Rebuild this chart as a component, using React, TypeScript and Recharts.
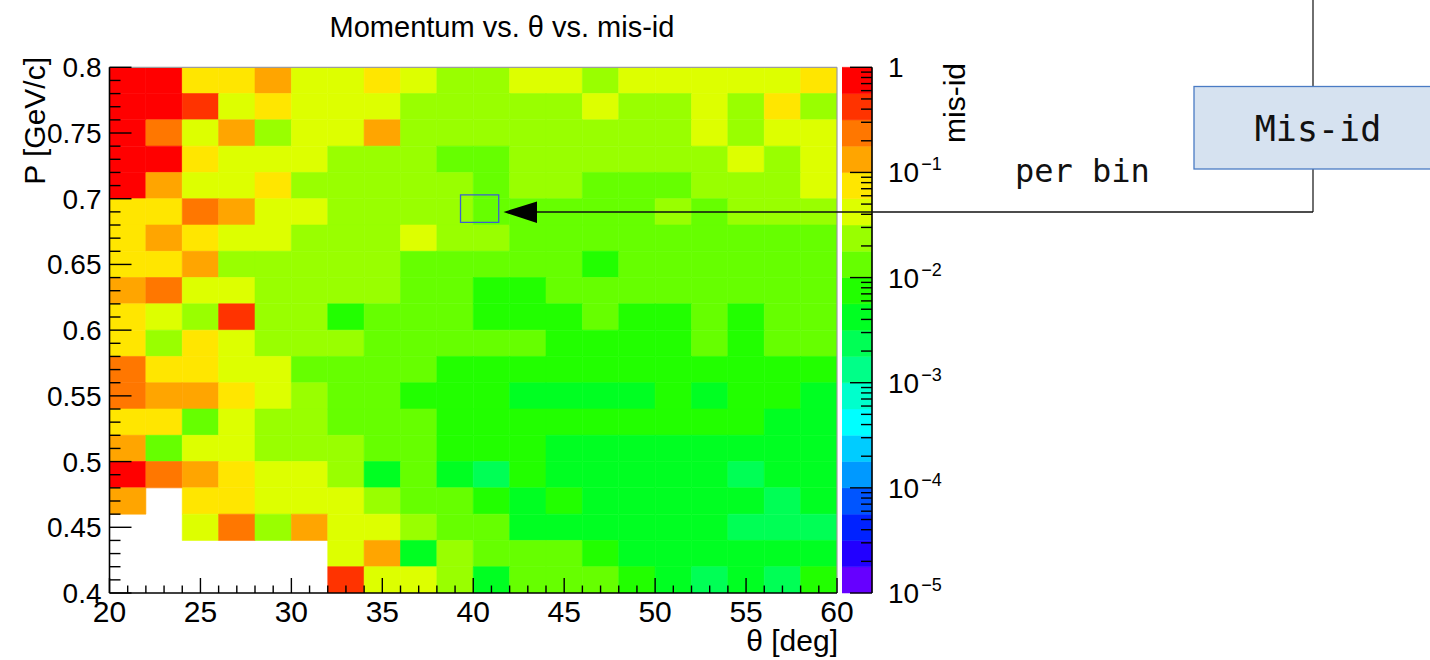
import React from 'react';
import { ComposedChart, XAxis, YAxis, ReferenceArea } from 'recharts';

// θ bin lower edges [deg], each bin 2° wide
const thetaBins = [20, 22, 24, 26, 28, 30, 32, 34, 36, 38, 40, 42, 44, 46, 48, 50, 52, 54, 56, 58];
const thetaBinWidth = 2;

// momentum bin lower edges [GeV/c], top row first, each bin 0.02 wide
const momentumBins = [0.78, 0.76, 0.74, 0.72, 0.70, 0.68, 0.66, 0.64, 0.62, 0.60, 0.58, 0.56, 0.54, 0.52, 0.50, 0.48, 0.46, 0.44, 0.42, 0.40];
const momentumBinWidth = 0.02;

// mis-id fraction per bin: one row per momentum bin, one column per θ bin (null = empty bin)
const misId: (number | null)[][] = [
  [0.82, 0.76, 0.072, 0.081, 0.14, 0.046, 0.041, 0.088, 0.044, 0.027, 0.025, 0.043, 0.039, 0.028, 0.047, 0.038, 0.042, 0.036, 0.045, 0.079],
  [0.91, 0.68, 0.43, 0.049, 0.074, 0.037, 0.044, 0.040, 0.026, 0.024, 0.022, 0.028, 0.025, 0.051, 0.023, 0.027, 0.048, 0.021, 0.085, 0.024],
  [0.74, 0.23, 0.038, 0.13, 0.029, 0.043, 0.047, 0.12, 0.022, 0.026, 0.024, 0.021, 0.027, 0.023, 0.025, 0.029, 0.052, 0.020, 0.039, 0.041],
  [0.87, 0.64, 0.066, 0.045, 0.040, 0.036, 0.028, 0.023, 0.025, 0.015, 0.014, 0.026, 0.022, 0.024, 0.028, 0.021, 0.019, 0.044, 0.023, 0.050],
  [0.79, 0.15, 0.042, 0.039, 0.083, 0.021, 0.025, 0.027, 0.020, 0.024, 0.016, 0.029, 0.026, 0.013, 0.012, 0.014, 0.022, 0.025, 0.028, 0.035],
  [0.069, 0.077, 0.21, 0.12, 0.048, 0.034, 0.026, 0.022, 0.024, 0.019, 0.015, 0.013, 0.014, 0.016, 0.012, 0.027, 0.011, 0.021, 0.024, 0.026],
  [0.085, 0.16, 0.063, 0.044, 0.037, 0.023, 0.020, 0.027, 0.050, 0.022, 0.021, 0.015, 0.013, 0.012, 0.014, 0.016, 0.011, 0.013, 0.015, 0.012],
  [0.071, 0.093, 0.11, 0.024, 0.021, 0.028, 0.025, 0.019, 0.016, 0.013, 0.014, 0.012, 0.015, 0.0078, 0.013, 0.011, 0.016, 0.014, 0.012, 0.013],
  [0.14, 0.26, 0.047, 0.035, 0.026, 0.023, 0.021, 0.024, 0.013, 0.015, 0.0082, 0.0069, 0.012, 0.014, 0.011, 0.013, 0.015, 0.012, 0.0115, 0.014],
  [0.064, 0.040, 0.027, 0.38, 0.022, 0.025, 0.0088, 0.014, 0.012, 0.016, 0.0074, 0.0091, 0.0066, 0.013, 0.0085, 0.0079, 0.012, 0.0071, 0.015, 0.011],
  [0.082, 0.023, 0.058, 0.045, 0.028, 0.021, 0.019, 0.013, 0.016, 0.012, 0.014, 0.0125, 0.0089, 0.0072, 0.0081, 0.0067, 0.013, 0.0076, 0.015, 0.0135],
  [0.25, 0.091, 0.067, 0.041, 0.036, 0.015, 0.012, 0.014, 0.011, 0.0084, 0.0093, 0.0077, 0.0069, 0.0081, 0.0063, 0.0087, 0.0072, 0.0078, 0.0065, 0.0083],
  [0.22, 0.17, 0.13, 0.078, 0.051, 0.020, 0.016, 0.013, 0.0094, 0.0071, 0.0086, 0.0048, 0.0041, 0.0053, 0.0045, 0.0079, 0.0038, 0.0092, 0.0068, 0.0044],
  [0.059, 0.087, 0.014, 0.043, 0.025, 0.029, 0.012, 0.015, 0.011, 0.0089, 0.0075, 0.0068, 0.0082, 0.0064, 0.0071, 0.0087, 0.0059, 0.0076, 0.0051, 0.0046],
  [0.12, 0.016, 0.039, 0.053, 0.024, 0.022, 0.019, 0.013, 0.0165, 0.0083, 0.0078, 0.0091, 0.0047, 0.0039, 0.0043, 0.0051, 0.0036, 0.0049, 0.0042, 0.0037],
  [0.68, 0.27, 0.15, 0.061, 0.038, 0.047, 0.020, 0.0048, 0.013, 0.0043, 0.0026, 0.0073, 0.0049, 0.0041, 0.0037, 0.0045, 0.0052, 0.0022, 0.0039, 0.0046],
  [0.11, null, 0.089, 0.076, 0.033, 0.049, 0.044, 0.029, 0.017, 0.011, 0.0068, 0.0044, 0.0085, 0.0038, 0.0047, 0.0041, 0.0035, 0.0053, 0.0027, 0.0042],
  [null, null, 0.046, 0.29, 0.026, 0.14, 0.037, 0.052, 0.024, 0.014, 0.012, 0.0051, 0.0046, 0.0039, 0.0043, 0.0050, 0.0037, 0.0025, 0.0021, 0.0028],
  [null, null, null, null, null, null, 0.035, 0.17, 0.0045, 0.030, 0.016, 0.013, 0.011, 0.0072, 0.0049, 0.0040, 0.0036, 0.0044, 0.0039, 0.0047],
  [null, null, null, null, null, null, 0.47, 0.042, 0.054, 0.022, 0.0041, 0.015, 0.012, 0.0145, 0.0061, 0.0044, 0.0024, 0.0038, 0.0029, 0.0087],
];

// axis labels
const thetaLabels = [20, 25, 30, 35, 40, 45, 50, 55, 60];
const momentumLabels = [0.4, 0.45, 0.5, 0.55, 0.6, 0.65, 0.7, 0.75, 0.8];
const zExponents = [-5, -4, -3, -2, -1, 0];

// z range (decades) and contour palette (lowest contour first)
const zMinExp = -5;
const zMaxExp = 0;
const palette = [
  '#6600ff', '#2200ff', '#0022ff', '#0055ff', '#0099ff', '#00ccff', '#00ffff', '#00ffcc', '#00ff88', '#00ff55',
  '#00ff22', '#22ff00', '#66ff00', '#99ff00', '#ddff00', '#ffe600', '#ffa500', '#ff7700', '#ff3300', '#ff0000',
];

// bin picked out by the annotation arrow
const markedBin = { theta: [39.3, 41.4], p: [0.682, 0.703] };

const FONT = '"Liberation Sans", Arial, Helvetica, sans-serif';
const MONO = '"DejaVu Sans Mono", monospace';

// page layout of the two charts
const CHART_H = 660;
const HEAT_W = 880;
const heatMargin = { top: 67.3, right: 43, bottom: 0, left: 0 };
const barMargin = { top: 67.3, right: 0, bottom: 0, left: 0 };
const X_AXIS_H = 67;
const Y_AXIS_W = 109.5;
const BAR_LEFT = 842;
const BAR_W = 130;
const Z_AXIS_W = 100;

const plot = {
  left: Y_AXIS_W,
  right: HEAT_W - heatMargin.right,
  top: heatMargin.top,
  bottom: CHART_H - X_AXIS_H,
};
const bar = { left: BAR_LEFT, right: BAR_LEFT + BAR_W - Z_AXIS_W };

const logStep = (zMaxExp - zMinExp) / palette.length;

const contourColor = (v: number) => {
  const k = Math.floor((Math.log10(v) - zMinExp) / logStep);
  return palette[Math.max(0, Math.min(palette.length - 1, k))];
};

// colour bar bands, in log10(mis-id)
const contourBands = palette.map((color, k) => ({
  lo: zMinExp + k * logStep,
  hi: zMinExp + (k + 1) * logStep,
  color,
}));

const cells = momentumBins.flatMap((p, row) =>
  thetaBins.map((theta, col) => ({ theta, p, value: misId[row][col] }))
).filter((c) => c.value !== null) as { theta: number; p: number; value: number }[];

// minor ticks every 1° and every 0.01 GeV/c
const thetaTicks = Array.from({ length: 41 }, (_, i) => 20 + i);
const momentumTicks = Array.from({ length: 41 }, (_, i) => Math.round((0.4 + i * 0.01) * 100) / 100);
// colour bar ticks at 1..9 x 10^e, placed in log10 units
const zTicks = [
  ...zExponents.slice(0, -1).flatMap((e) => [1, 2, 3, 4, 5, 6, 7, 8, 9].map((m) => e + Math.log10(m))),
  zMaxExp,
];

const isThetaMajor = (v: number) => thetaLabels.includes(v);
const isMomentumMajor = (v: number) => momentumLabels.some((m) => Math.abs(m - v) < 1e-6);
const isZMajor = (v: number) => Math.abs(v - Math.round(v)) < 1e-6;

// same linear maps as the chart axes, used for the inward tick marks
const thetaPx = (t: number) => plot.left + ((t - 20) / 40) * (plot.right - plot.left);
const momentumPx = (p: number) => plot.bottom - ((p - 0.4) / 0.4) * (plot.bottom - plot.top);
const zPx = (z: number) => plot.bottom - ((z - zMinExp) / (zMaxExp - zMinExp)) * (plot.bottom - plot.top);

const ThetaLabel = (props: any) => {
  const { x, y, payload } = props;
  if (!isThetaMajor(payload.value)) return <g />;
  return (
    <text x={x} y={y + 29} textAnchor="middle" fontSize={30} fontFamily={FONT} fill="#000">
      {payload.value}
    </text>
  );
};

const MomentumLabel = (props: any) => {
  const { x, y, payload } = props;
  if (!isMomentumMajor(payload.value)) return <g />;
  return (
    <text x={x - 8} y={y + 10} textAnchor="end" fontSize={28} fontFamily={FONT} fill="#000">
      {String(Number(payload.value.toFixed(2)))}
    </text>
  );
};

const ZLabel = (props: any) => {
  const { x, y, payload } = props;
  if (!isZMajor(payload.value)) return <g />;
  const e = Math.round(payload.value);
  return (
    <text x={x + 16} y={y + 10} fontSize={28} fontFamily={FONT} fill="#000">
      {e === 0 ? '1' : '10'}
      {e !== 0 && <tspan dy={-12} dx={2} fontSize={18}>{`\u2212${-e}`}</tspan>}
    </text>
  );
};

const HeatMap = () => (
  <ComposedChart width={HEAT_W} height={CHART_H} margin={heatMargin}>
    {cells.map((c) => (
      <ReferenceArea
        key={`${c.theta}-${c.p}`}
        x1={c.theta}
        x2={c.theta + thetaBinWidth}
        y1={c.p}
        y2={c.p + momentumBinWidth}
        fill={contourColor(c.value)}
        fillOpacity={1}
        stroke={contourColor(c.value)}
        strokeWidth={0.6}
        ifOverflow="hidden"
      />
    ))}
    <ReferenceArea
      x1={markedBin.theta[0]}
      x2={markedBin.theta[1]}
      y1={markedBin.p[0]}
      y2={markedBin.p[1]}
      fill="none"
      stroke="#3f5fd0"
      strokeWidth={1.3}
    />
    <XAxis
      type="number"
      dataKey="theta"
      domain={[20, 60]}
      allowDataOverflow
      ticks={thetaTicks}
      interval={0}
      height={X_AXIS_H}
      tickSize={0}
      tickMargin={0}
      tickLine={false}
      axisLine={false}
      tick={<ThetaLabel />}
    />
    <YAxis
      type="number"
      dataKey="p"
      domain={[0.4, 0.8]}
      allowDataOverflow
      ticks={momentumTicks}
      interval={0}
      width={Y_AXIS_W}
      tickSize={0}
      tickMargin={0}
      tickLine={false}
      axisLine={false}
      tick={<MomentumLabel />}
    />
  </ComposedChart>
);

const ColorBar = () => (
  <ComposedChart width={BAR_W} height={CHART_H} margin={barMargin}>
    {contourBands.map((b) => (
      <ReferenceArea
        key={b.color}
        x1={0}
        x2={1}
        y1={b.lo}
        y2={b.hi}
        fill={b.color}
        fillOpacity={1}
        stroke={b.color}
        strokeWidth={0.5}
      />
    ))}
    <XAxis type="number" dataKey="x" domain={[0, 1]} allowDataOverflow height={X_AXIS_H} tick={false} axisLine={false} tickLine={false} />
    <YAxis
      type="number"
      dataKey="z"
      domain={[zMinExp, zMaxExp]}
      allowDataOverflow
      orientation="right"
      ticks={zTicks}
      interval={0}
      width={Z_AXIS_W}
      tickSize={0}
      tickMargin={0}
      tickLine={false}
      axisLine={false}
      tick={<ZLabel />}
    />
  </ComposedChart>
);

// frame, axis lines and inward ticks on top of the cells and the colour bar
const AxisFrame = () => (
  <g stroke="#000" strokeWidth={1.4}>
    <line x1={plot.left} y1={plot.top} x2={plot.right} y2={plot.top} stroke="#9c9c9c" strokeWidth={1.2} />
    <line x1={plot.right} y1={plot.top} x2={plot.right} y2={plot.bottom} stroke="#9c9c9c" strokeWidth={1.2} />
    <line x1={plot.left} y1={plot.bottom} x2={plot.right} y2={plot.bottom} strokeWidth={1.6} />
    <line x1={plot.left} y1={plot.top} x2={plot.left} y2={plot.bottom} strokeWidth={1.6} />
    {thetaTicks.map((t) => (
      <line key={`t${t}`} x1={thetaPx(t)} y1={plot.bottom} x2={thetaPx(t)} y2={plot.bottom - (isThetaMajor(t) ? 15 : 7.5)} />
    ))}
    {momentumTicks.map((p) => (
      <line key={`p${p}`} x1={plot.left} y1={momentumPx(p)} x2={plot.left + (isMomentumMajor(p) ? 22 : 11)} y2={momentumPx(p)} />
    ))}
    <line x1={bar.right} y1={plot.top} x2={bar.right} y2={plot.bottom} strokeWidth={1.6} />
    {zTicks.map((z) => (
      <line key={`z${z}`} x1={bar.right - (isZMajor(z) ? 22 : 11)} y1={zPx(z)} x2={bar.right} y2={zPx(z)} />
    ))}
  </g>
);

const layer: React.CSSProperties = { position: 'absolute', top: 0 };

export default function App() {
  return (
    <div style={{ position: 'absolute', left: 0, top: 0, width: 1430, height: 660, background: '#fff', overflow: 'hidden' }}>
      <div style={{ ...layer, left: 0 }}>
        <HeatMap />
      </div>
      <div style={{ ...layer, left: BAR_LEFT }}>
        <ColorBar />
      </div>
      <svg width={1430} height={660} style={{ position: 'absolute', left: 0, top: 0, pointerEvents: 'none' }}>
        <AxisFrame />
        <text x={502} y={37} textAnchor="middle" fontSize={29} fontFamily={FONT} fill="#000">
          Momentum vs. θ vs. mis-id
        </text>
        <text transform="translate(45, 57) rotate(-90)" textAnchor="end" fontSize={30} fontFamily={FONT} fill="#000">
          P [GeV/c]
        </text>
        <text x={838} y={651} textAnchor="end" fontSize={30} fontFamily={FONT} fill="#000">
          θ [deg]
        </text>
        <text transform="translate(965, 63) rotate(-90)" textAnchor="end" fontSize={30} fontFamily={FONT} fill="#000">
          mis-id
        </text>

        {/* callout: leader from the label box down and across to the marked bin */}
        <line x1={1313} y1={0} x2={1313} y2={212} stroke="#222" strokeWidth={1.3} />
        <line x1={530} y1={212} x2={1313} y2={212} stroke="#111" strokeWidth={1.5} />
        <polygon points="503.5,212 537,201.5 537,223" fill="#000" />
        <rect x={1194} y={86.5} width={260} height={82.5} fill="#d6e2f0" stroke="#4a7bc4" strokeWidth={1.3} />
        <text x={1318} y={141} textAnchor="middle" fontSize={35} fontFamily={MONO} fill="#111">
          Mis-id
        </text>
        <text x={1015} y={182} fontSize={32} fontFamily={MONO} fill="#111">
          per bin
        </text>
      </svg>
    </div>
  );
}
